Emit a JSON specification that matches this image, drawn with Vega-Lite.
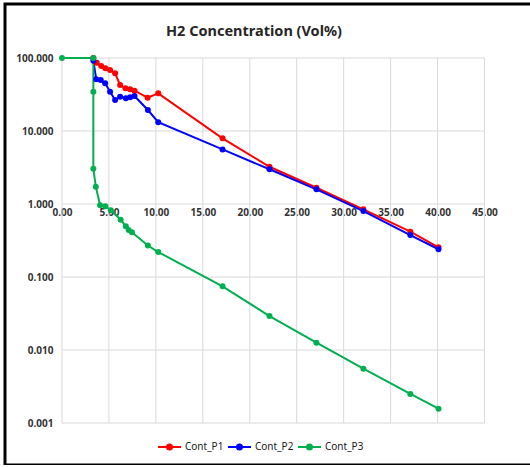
{
  "$schema": "https://vega.github.io/schema/vega-lite/v6.json",
  "autosize": "none",
  "padding": {"left": 5, "top": 4, "right": 0, "bottom": 0},
  "width": 530,
  "height": 461,
  "background": "white",
  "config": {
    "view": {"stroke": "black", "strokeWidth": 3, "fill": "white"},
    "font": "Noto Sans",
    "axis": {
      "grid": false, "domain": false, "ticks": false,
      "labelFont": "Noto Sans", "labelFontSize": 10, "labelFontWeight": "bold", "labelColor": "#333333"
    }
  },
  "title": {
    "text": "H2 Concentration (Vol%)",
    "offset": -35,
    "anchor": "middle",
    "dx": -16,
    "fontSize": 14.5,
    "fontWeight": "bold",
    "font": "Noto Sans",
    "color": "#262626"
  },
  "datasets": {
    "series": [
      {"s": "Cont_P1", "i": 1, "x": 3.34, "y": 100},
      {"s": "Cont_P1", "i": 2, "x": 3.7, "y": 86},
      {"s": "Cont_P1", "i": 3, "x": 4.18, "y": 77.6},
      {"s": "Cont_P1", "i": 4, "x": 4.62, "y": 72.3},
      {"s": "Cont_P1", "i": 5, "x": 5.12, "y": 68.5},
      {"s": "Cont_P1", "i": 6, "x": 5.66, "y": 61.7},
      {"s": "Cont_P1", "i": 7, "x": 6.19, "y": 42.7},
      {"s": "Cont_P1", "i": 8, "x": 6.76, "y": 38.5},
      {"s": "Cont_P1", "i": 9, "x": 7.26, "y": 37.3},
      {"s": "Cont_P1", "i": 10, "x": 7.72, "y": 35.7},
      {"s": "Cont_P1", "i": 11, "x": 9.12, "y": 28.6},
      {"s": "Cont_P1", "i": 12, "x": 10.25, "y": 32.8},
      {"s": "Cont_P1", "i": 13, "x": 17.1, "y": 7.94},
      {"s": "Cont_P1", "i": 14, "x": 22.1, "y": 3.24},
      {"s": "Cont_P1", "i": 15, "x": 27.1, "y": 1.67},
      {"s": "Cont_P1", "i": 16, "x": 32.1, "y": 0.845},
      {"s": "Cont_P1", "i": 17, "x": 37.1, "y": 0.418},
      {"s": "Cont_P1", "i": 18, "x": 40.1, "y": 0.255},
      {"s": "Cont_P2", "i": 1, "x": 3.34, "y": 92},
      {"s": "Cont_P2", "i": 2, "x": 3.65, "y": 51},
      {"s": "Cont_P2", "i": 3, "x": 4.13, "y": 50},
      {"s": "Cont_P2", "i": 4, "x": 4.6, "y": 45},
      {"s": "Cont_P2", "i": 5, "x": 5.12, "y": 34.5},
      {"s": "Cont_P2", "i": 6, "x": 5.66, "y": 26.6},
      {"s": "Cont_P2", "i": 7, "x": 6.19, "y": 29.5},
      {"s": "Cont_P2", "i": 8, "x": 6.8, "y": 28.0},
      {"s": "Cont_P2", "i": 9, "x": 7.26, "y": 29.0},
      {"s": "Cont_P2", "i": 10, "x": 7.72, "y": 30.2},
      {"s": "Cont_P2", "i": 11, "x": 9.15, "y": 19.4},
      {"s": "Cont_P2", "i": 12, "x": 10.25, "y": 13.2},
      {"s": "Cont_P2", "i": 13, "x": 17.1, "y": 5.6},
      {"s": "Cont_P2", "i": 14, "x": 22.1, "y": 2.99},
      {"s": "Cont_P2", "i": 15, "x": 27.1, "y": 1.59},
      {"s": "Cont_P2", "i": 16, "x": 32.1, "y": 0.8},
      {"s": "Cont_P2", "i": 17, "x": 37.1, "y": 0.376},
      {"s": "Cont_P2", "i": 18, "x": 40.1, "y": 0.24},
      {"s": "Cont_P3", "i": 1, "x": 0, "y": 100},
      {"s": "Cont_P3", "i": 2, "x": 3.34, "y": 100},
      {"s": "Cont_P3", "i": 3, "x": 3.34, "y": 34.5},
      {"s": "Cont_P3", "i": 4, "x": 3.34, "y": 3.05},
      {"s": "Cont_P3", "i": 5, "x": 3.6, "y": 1.73},
      {"s": "Cont_P3", "i": 6, "x": 4.06, "y": 0.96},
      {"s": "Cont_P3", "i": 7, "x": 4.62, "y": 0.93},
      {"s": "Cont_P3", "i": 8, "x": 5.2, "y": 0.82},
      {"s": "Cont_P3", "i": 9, "x": 6.25, "y": 0.61},
      {"s": "Cont_P3", "i": 10, "x": 6.8, "y": 0.495},
      {"s": "Cont_P3", "i": 11, "x": 7.1, "y": 0.44},
      {"s": "Cont_P3", "i": 12, "x": 7.45, "y": 0.41},
      {"s": "Cont_P3", "i": 13, "x": 9.15, "y": 0.27},
      {"s": "Cont_P3", "i": 14, "x": 10.25, "y": 0.22},
      {"s": "Cont_P3", "i": 15, "x": 17.1, "y": 0.0745},
      {"s": "Cont_P3", "i": 16, "x": 22.1, "y": 0.0292},
      {"s": "Cont_P3", "i": 17, "x": 27.1, "y": 0.0126},
      {"s": "Cont_P3", "i": 18, "x": 32.1, "y": 0.00555},
      {"s": "Cont_P3", "i": 19, "x": 37.1, "y": 0.0025},
      {"s": "Cont_P3", "i": 20, "x": 40.1, "y": 0.00157}
    ],
    "vgrid": [
      {"gx": 0}, {"gx": 5}, {"gx": 10}, {"gx": 15}, {"gx": 20},
      {"gx": 25}, {"gx": 30}, {"gx": 35}, {"gx": 40}, {"gx": 45}
    ],
    "hgrid": [
      {"gy": 0.001}, {"gy": 0.01}, {"gy": 0.1}, {"gy": 1}, {"gy": 10}, {"gy": 100}
    ]
  },
  "layer": [
    {
      "data": {"name": "vgrid"},
      "mark": {"type": "rule", "color": "#d9d9d9", "strokeWidth": 1},
      "encoding": {
        "x": {
          "field": "gx", "type": "quantitative",
          "scale": {"domain": [-6.07, 50.38], "nice": false, "zero": false},
          "axis": {"values": [0, 5, 10, 15, 20, 25, 30, 35, 40, 45], "format": ".2f", "title": null, "offset": -261, "labelPadding": 3}
        },
        "y": {
          "datum": 0.001, "type": "quantitative",
          "scale": {"type": "log", "domain": [0.000266, 549.5], "nice": false},
          "axis": {"values": [0.001, 0.01, 0.1, 1, 10, 100], "format": ".3f", "title": null, "offset": -57, "labelPadding": 9}
        },
        "y2": {"datum": 100}
      }
    },
    {
      "data": {"name": "hgrid"},
      "mark": {"type": "rule", "color": "#d9d9d9", "strokeWidth": 1},
      "encoding": {
        "y": {
          "field": "gy", "type": "quantitative",
          "axis": {"values": [0.001, 0.01, 0.1, 1, 10, 100], "format": ".3f", "title": null, "offset": -57, "labelPadding": 9}
        },
        "x": {
          "datum": 0, "type": "quantitative",
          "axis": {"values": [0, 5, 10, 15, 20, 25, 30, 35, 40, 45], "format": ".2f", "title": null, "offset": -261, "labelPadding": 3}
        },
        "x2": {"datum": 45}
      }
    },
    {
      "data": {"name": "series"},
      "mark": {"type": "line", "strokeWidth": 2},
      "encoding": {
        "x": {
          "field": "x", "type": "quantitative",
          "axis": {"values": [0, 5, 10, 15, 20, 25, 30, 35, 40, 45], "format": ".2f", "title": null, "offset": -261, "labelPadding": 3}
        },
        "y": {
          "field": "y", "type": "quantitative",
          "axis": {"values": [0.001, 0.01, 0.1, 1, 10, 100], "format": ".3f", "title": null, "offset": -57, "labelPadding": 9}
        },
        "color": {
          "field": "s", "type": "nominal",
          "scale": {"domain": ["Cont_P1", "Cont_P2", "Cont_P3"], "range": ["#ff0000", "#0000ff", "#00b050"]},
          "legend": {
            "title": null,
            "orient": "none",
            "legendX": 152,
            "legendY": 430,
            "direction": "horizontal",
            "padding": 0,
            "symbolType": "M-1,0L1,0M-0.22,0A0.22,0.22,0,1,1,0.22,0A0.22,0.22,0,1,1,-0.22,0Z",
            "symbolSize": 529,
            "symbolStrokeWidth": 2,
            "labelFont": "Noto Sans",
            "labelFontSize": 10,
            "labelFontWeight": "normal",
            "labelColor": "#1a1a1a",
            "labelOffset": 3,
            "columnPadding": 0
          }
        },
        "order": {"field": "i", "type": "quantitative"}
      }
    },
    {
      "data": {"name": "series"},
      "mark": {"type": "point", "filled": true, "size": 36, "opacity": 1},
      "encoding": {
        "x": {
          "field": "x", "type": "quantitative",
          "axis": {"values": [0, 5, 10, 15, 20, 25, 30, 35, 40, 45], "format": ".2f", "title": null, "offset": -261, "labelPadding": 3}
        },
        "y": {
          "field": "y", "type": "quantitative",
          "axis": {"values": [0.001, 0.01, 0.1, 1, 10, 100], "format": ".3f", "title": null, "offset": -57, "labelPadding": 9}
        },
        "color": {"field": "s", "type": "nominal"}
      }
    }
  ]
}
